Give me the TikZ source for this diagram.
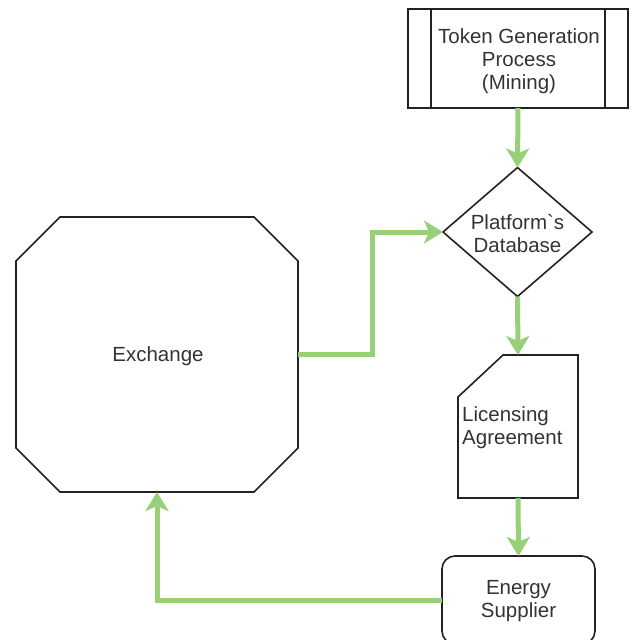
\documentclass[tikz,border=0pt]{standalone}
\usepackage{fontspec}
\setmainfont{Liberation Sans}[Ligatures=TeXOff]
\usetikzlibrary{arrows.meta,shapes.geometric}
\definecolor{flow}{HTML}{97D077}
\definecolor{txt}{HTML}{333333}
\definecolor{edge}{HTML}{222222}
\begin{document}
\begin{tikzpicture}[x=1pt,y=-1pt,
  shapeline/.style={draw=edge, line width=1.6pt},
  lbl/.style={text=txt, font=\fontsize{20.5}{23}\selectfont, align=center, inner sep=0pt},
  holder/.style={inner sep=0pt, outer sep=0pt},
  flowline/.style={draw=flow, line width=5pt, -{Stealth[length=19pt,width=23pt,inset=5pt]}},
]
\useasboundingbox (0,0) rectangle (635,640);
\clip (0,0) rectangle (635,640);

% Token Generation Process
\node[shapeline, holder, rectangle, minimum width=220pt, minimum height=99pt] (token) at (518,58.5) {};
\draw[shapeline] ([xshift=23pt]token.north west) -- ([xshift=23pt]token.south west);
\draw[shapeline] ([xshift=-23pt]token.north east) -- ([xshift=-23pt]token.south east);
\node[lbl] (tokentext) at (519,61) {Token Generation\\Process\\(Mining)};

% Platform's Database
\node[shapeline, holder, diamond, minimum width=149pt, minimum height=129pt] (db) at (517.5,232) {};
\node[lbl] (dbtext) at (517.5,234) {Platform`s\\Database};

% Licensing Agreement (card)
\node[holder, minimum width=120pt, minimum height=143pt] (lic) at (518,426.5) {};
\draw[shapeline] ([yshift=-42pt]lic.north west) -- ([xshift=45pt]lic.north west) -- (lic.north east) -- (lic.south east) -- (lic.south west) -- cycle;
\node[lbl, align=left, anchor=west] (lictext) at (462,428) {Licensing\\Agreement};

% Energy Supplier
\node[shapeline, holder, rounded corners=13pt, minimum width=153pt, minimum height=88pt] (es) at (518.5,600) {};
\node[lbl] (estext) at (518.5,601) {Energy\\Supplier};

% Exchange (octagon)
\node[holder, minimum width=282pt, minimum height=275pt] (ex) at (157,354.5) {};
\draw[shapeline] ([xshift=44pt]ex.north west) -- ([xshift=-44pt]ex.north east)
  -- ([yshift=-44pt]ex.north east) -- ([yshift=44pt]ex.south east)
  -- ([xshift=-44pt]ex.south east) -- ([xshift=44pt]ex.south west)
  -- ([yshift=44pt]ex.south west) -- ([yshift=-44pt]ex.north west) -- cycle;
\node[lbl] (extext) at (158,356) {Exchange};

% Connectors
\coordinate (bend) at (372,354.5);
\draw[flowline] (token.south) -- (db.north);
\draw[flowline] (db.south) -- (lic.north);
\draw[flowline] (lic.south) -- (es.north);
\draw[flowline] (es.west) -| (ex.south);
\draw[flowline] (ex.east) -- (bend) |- (db.west);
\end{tikzpicture}
\end{document}
